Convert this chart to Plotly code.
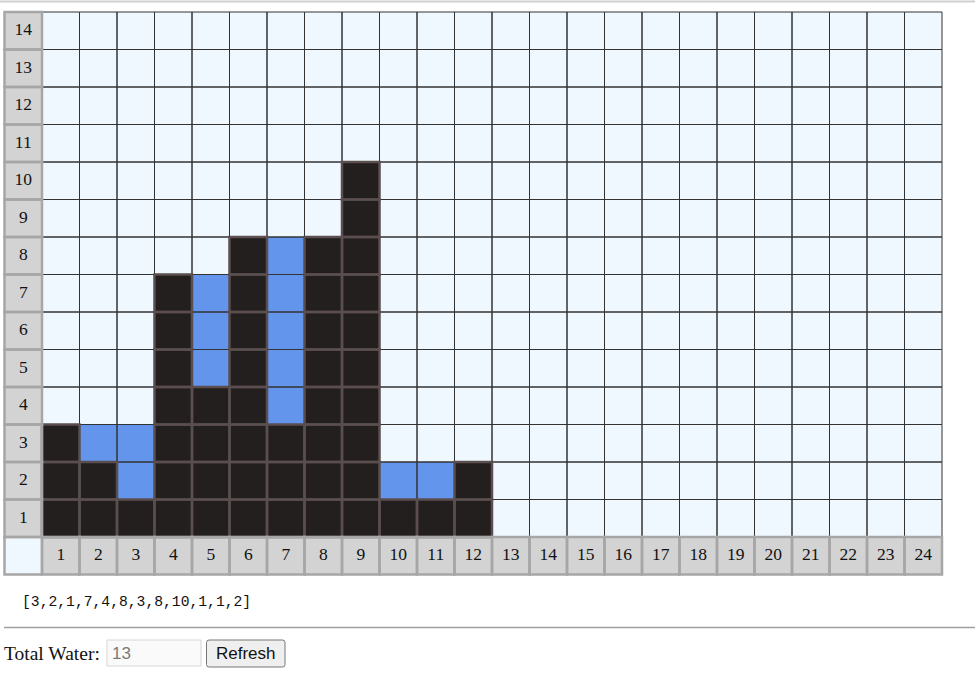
import plotly.graph_objects as go

# ---- data ----
heights = [3, 2, 1, 7, 4, 8, 3, 8, 10, 1, 1, 2]
water = [0, 1, 2, 0, 3, 0, 5, 0, 0, 1, 1, 0]
col_labels = [str(i) for i in range(1, 25)]
row_labels = [str(i) for i in range(1, 15)]
array_text = "[3,2,1,7,4,8,3,8,10,1,1,2]"
total_label = "Total Water:"
total_value = str(sum(water))
button_label = "Refresh"

W, H = 975, 675
n_cols = len(col_labels)
n_rows = len(row_labels)

EMPTY, WATER, GROUND, LABEL, CORNER = 0, 1, 2, 3, 4

# state grid: x index 0 = row-label column, y index 0 = column-label row
z = []
for yi in range(n_rows + 1):
    row = []
    for xi in range(n_cols + 1):
        if xi == 0 and yi == 0:
            row.append(CORNER)
        elif xi == 0 or yi == 0:
            row.append(LABEL)
        else:
            c = xi - 1
            h = heights[c] if c < len(heights) else 0
            w = water[c] if c < len(water) else 0
            if yi <= h:
                row.append(GROUND)
            elif yi <= h + w:
                row.append(WATER)
            else:
                row.append(EMPTY)
    z.append(row)

C_EMPTY = "#f0f8ff"
C_WATER = "#6495ed"
C_GROUND = "#231f1f"
C_LABEL = "#d3d3d3"
colorscale = [
    [0.0, C_EMPTY], [0.2, C_EMPTY],
    [0.2, C_WATER], [0.4, C_WATER],
    [0.4, C_GROUND], [0.6, C_GROUND],
    [0.6, C_LABEL], [0.8, C_LABEL],
    [0.8, C_EMPTY], [1.0, C_EMPTY],
]

fig = go.Figure()
fig.add_trace(go.Heatmap(
    z=z, x=list(range(n_cols + 1)), y=list(range(n_rows + 1)),
    zmin=0, zmax=4, colorscale=colorscale, showscale=False,
    xgap=0, ygap=0, hoverinfo="skip",
))

CELL = 37.5

def cells(kinds):
    xs, ys = [], []
    for yi in range(n_rows + 1):
        for xi in range(n_cols + 1):
            if z[yi][xi] in kinds:
                xs.append(xi)
                ys.append(yi)
    return xs, ys

# borders of empty/water cells
xs, ys = cells([EMPTY, WATER])
fig.add_trace(go.Scatter(
    x=xs, y=ys, mode="markers", hoverinfo="skip", cliponaxis=False,
    marker=dict(symbol="square", size=CELL, color="rgba(0,0,0,0)",
                line=dict(color="#333333", width=1)),
))
# borders of ground cells
xs, ys = cells([GROUND])
fig.add_trace(go.Scatter(
    x=xs, y=ys, mode="markers", hoverinfo="skip", cliponaxis=False,
    marker=dict(symbol="square", size=CELL, color="rgba(0,0,0,0)",
                line=dict(color="#5a4e4e", width=2.5)),
))
# label cells with text
lx, ly, lt = [], [], []
for yi in range(n_rows + 1):
    for xi in range(n_cols + 1):
        if z[yi][xi] in (LABEL, CORNER):
            lx.append(xi)
            ly.append(yi)
            if xi == 0 and yi > 0:
                lt.append(row_labels[yi - 1])
            elif yi == 0 and xi > 0:
                lt.append(col_labels[xi - 1])
            else:
                lt.append("")
fig.add_trace(go.Scatter(
    x=lx, y=ly, text=lt, mode="markers+text", textposition="middle center",
    hoverinfo="skip", cliponaxis=False,
    textfont=dict(family="Liberation Serif", size=17.5, color="#111111"),
    marker=dict(symbol="square", size=CELL, color="rgba(0,0,0,0)",
                line=dict(color="#a6a6a6", width=2.5)),
))

def px(x):
    return x / W

def py(y):
    return 1 - y / H

left, right, top, bottom = 4.5, 942.0, 12.0, 574.5

fig.update_layout(
    width=W, height=H, margin=dict(l=0, r=0, t=0, b=0),
    paper_bgcolor="white", plot_bgcolor="white", showlegend=False,
    xaxis=dict(domain=[px(left), px(right)], range=[-0.5, n_cols + 0.5],
               showgrid=False, zeroline=False, showticklabels=False, fixedrange=True),
    yaxis=dict(domain=[py(bottom), py(top)], range=[-0.5, n_rows + 0.5],
               showgrid=False, zeroline=False, showticklabels=False, fixedrange=True),
    font=dict(family="Liberation Serif"),
)

shapes = [
    # top rule
    dict(type="line", xref="paper", yref="paper", x0=0, x1=1, y0=py(1.5), y1=py(1.5),
         line=dict(color="#cfcfcf", width=2)),
    # horizontal rule
    dict(type="line", xref="paper", yref="paper", x0=px(4), x1=1, y0=py(627.5), y1=py(627.5),
         line=dict(color="#a0a0a0", width=1.5)),
    # input box
    dict(type="rect", xref="paper", yref="paper", x0=px(107), x1=px(201), y0=py(666), y1=py(640),
         line=dict(color="#d6d6d6", width=1), fillcolor="#fafafa"),
]
# button with rounded corners
bx0, bx1, by0, by1, r = 206.5, 285, 640, 667, 2.5
path = (f"M {px(bx0 + r)},{py(by0)} L {px(bx1 - r)},{py(by0)} "
        f"Q {px(bx1)},{py(by0)} {px(bx1)},{py(by0 + r)} L {px(bx1)},{py(by1 - r)} "
        f"Q {px(bx1)},{py(by1)} {px(bx1 - r)},{py(by1)} L {px(bx0 + r)},{py(by1)} "
        f"Q {px(bx0)},{py(by1)} {px(bx0)},{py(by1 - r)} L {px(bx0)},{py(by0 + r)} "
        f"Q {px(bx0)},{py(by0)} {px(bx0 + r)},{py(by0)} Z")
shapes.append(dict(type="path", xref="paper", yref="paper", path=path,
                   line=dict(color="#767676", width=1), fillcolor="#efefef"))
fig.update_layout(shapes=shapes)

annotations = [
    dict(text=array_text, xref="paper", yref="paper", x=px(20), y=py(602),
         xanchor="left", yanchor="middle", showarrow=False,
         font=dict(family="Liberation Mono", size=14.7, color="#111111")),
    dict(text=total_label, xref="paper", yref="paper", x=px(1.5), y=py(653),
         xanchor="left", yanchor="middle", showarrow=False,
         font=dict(family="Liberation Serif", size=19.5, color="#111111")),
    dict(text=total_value, xref="paper", yref="paper", x=px(110), y=py(653),
         xanchor="left", yanchor="middle", showarrow=False,
         font=dict(family="Liberation Sans", size=17, color="#7a7a7a")),
    dict(text=button_label, xref="paper", yref="paper", x=px((bx0 + bx1) / 2), y=py(653),
         xanchor="center", yanchor="middle", showarrow=False,
         font=dict(family="Liberation Sans", size=17, color="#111111")),
]
fig.update_layout(annotations=annotations)

fig.write_html("out.html", config={"displayModeBar": False})
